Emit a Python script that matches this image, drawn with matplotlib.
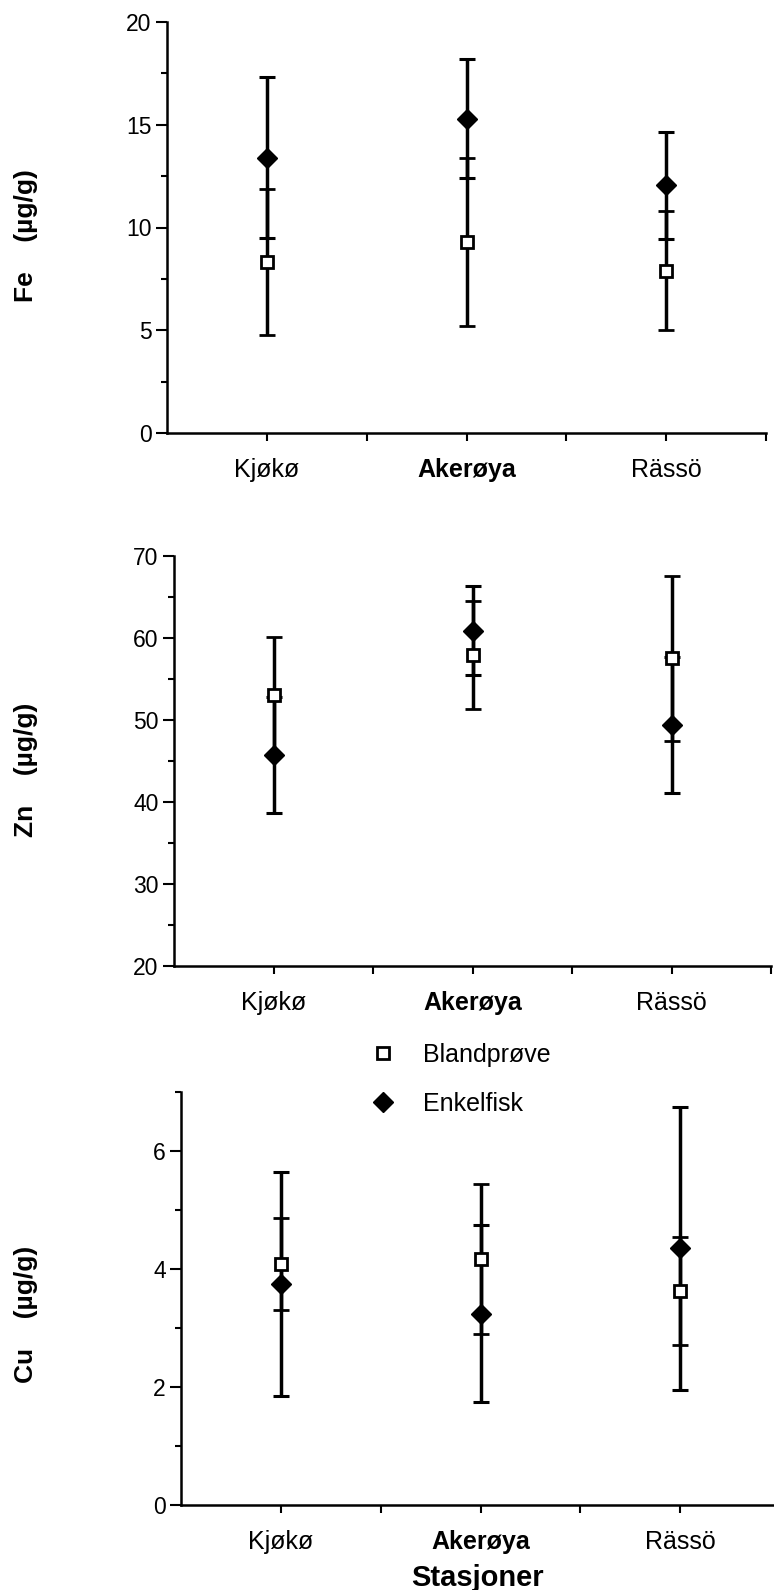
import numpy as np
import matplotlib.pyplot as plt
from matplotlib.lines import Line2D
from matplotlib.ticker import MultipleLocator

plt.rcParams['font.family'] = ['Liberation Sans', 'DejaVu Sans']

# ── data (middelverdi ± SD) ─────────────────────
stasjoner = ['Kjøkø', 'Akerøya', 'Rässö']

fe_bland    = [8.3, 9.3, 7.9]
fe_bland_sd = [3.55, 4.1, 2.9]
fe_enkel    = [13.4, 15.3, 12.05]
fe_enkel_sd = [3.9, 2.9, 2.6]

zn_bland    = [53.0, 57.95, 57.5]
zn_bland_sd = [7.1, 6.6, 10.1]
zn_enkel    = [45.7, 60.9, 49.4]
zn_enkel_sd = [7.1, 5.45, 8.3]

cu_bland    = [4.09, 4.17, 3.63]
cu_bland_sd = [0.78, 1.27, 0.92]
cu_enkel    = [3.74, 3.24, 4.35]
cu_enkel_sd = [1.9, 1.5, 2.4]

# ── figure ──────────────────────────────────────
W, H = 774, 1590
fig = plt.figure(figsize=(W / 100, H / 100), dpi=100)

def rect(x0, x1, ytop, ybot):
    return [x0 / W, 1 - ybot / H, (x1 - x0) / W, (ybot - ytop) / H]

panels = [
    (rect(167, 766, 22, 433),    (0, 20),  5, 2.5, fe_bland, fe_bland_sd, fe_enkel, fe_enkel_sd, 'Fe    (µg/g)', 236),
    (rect(174, 771, 556, 966),   (20, 70), 10, 5,  zn_bland, zn_bland_sd, zn_enkel, zn_enkel_sd, 'Zn    (µg/g)', 770),
    (rect(181, 780, 1092, 1505), (0, 7),   2, 1,   cu_bland, cu_bland_sd, cu_enkel, cu_enkel_sd, 'Cu    (µg/g)', 1314),
]

x = np.arange(len(stasjoner)) + 0.5

for r, ylim, major, minor, bl, bl_sd, en, en_sd, ylab, ylab_y in panels:
    ax = fig.add_axes(r)
    ax.errorbar(x, en, yerr=en_sd, fmt='D', ms=10, mfc='black', mec='black',
                ecolor='black', elinewidth=2.5, capsize=6, capthick=2.2, zorder=3)
    ax.errorbar(x, bl, yerr=bl_sd, fmt='s', ms=8.5, mfc='white', mec='black', mew=2,
                ecolor='black', elinewidth=2.5, capsize=6, capthick=2.2, zorder=4)

    ax.set_xlim(0, 3)
    ax.set_ylim(*ylim)
    ax.set_xticks(x, stasjoner)
    ax.set_xticks([1, 2, 3], minor=True)
    ax.yaxis.set_major_locator(MultipleLocator(major))
    ax.yaxis.set_minor_locator(MultipleLocator(minor))

    for s in ['top', 'right']:
        ax.spines[s].set_visible(False)
    for s in ['left', 'bottom']:
        ax.spines[s].set_linewidth(1.8)

    ax.tick_params(axis='y', which='major', direction='out', length=8, width=1.5,
                   labelsize=16.5, pad=3)
    ax.tick_params(axis='y', which='minor', direction='out', length=4.5, width=1.5)
    ax.tick_params(axis='x', which='both', direction='out', length=6, width=1.5,
                   labelsize=18, pad=12)
    ax.get_xticklabels()[1].set_fontweight('bold')

    fig.text(26 / W, 1 - ylab_y / H, ylab, rotation=90, ha='center', va='center',
             fontsize=19, fontweight='bold')

# ── legend ──────────────────────────────────────
handles = [
    Line2D([], [], ls='none', marker='s', ms=8, mfc='white', mec='black', mew=2),
    Line2D([], [], ls='none', marker='D', ms=10, mfc='black', mec='black'),
]
fig.legend(handles, ['Blandprøve', 'Enkelfisk'], loc='upper left',
           bbox_to_anchor=(373 / W, 1 - 1043 / H), frameon=False, fontsize=18,
           handlelength=0.8, handletextpad=1.2, labelspacing=1.0,
           borderpad=0, borderaxespad=0)

fig.text(477 / W, 1 - 1578 / H, 'Stasjoner', ha='center', va='center',
         fontsize=21, fontweight='bold')

plt.savefig('out.png', dpi=100)
